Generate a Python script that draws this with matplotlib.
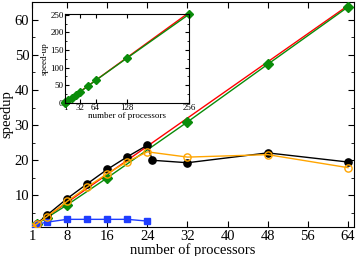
import matplotlib
matplotlib.use("Agg")
import matplotlib.pyplot as plt
from matplotlib.ticker import MultipleLocator, FixedLocator

plt.rcParams["font.family"] = ["Liberation Serif", "DejaVu Serif"]

# ideal speedup line
ideal_x = [1, 64]
ideal_y = [1, 64]

# measured series
black_x = [1, 2, 4, 8, 12, 16, 20, 24, 25, 32, 48, 64]
black_y = [1, 2.0, 4.4, 9.1, 13.3, 17.4, 21.0, 24.3, 20.0, 19.3, 22.1, 19.5]

orange_x = [1, 2, 4, 8, 12, 16, 20, 24, 32, 48, 64]
orange_y = [1, 1.9, 4.0, 8.3, 12.4, 16.2, 19.6, 22.4, 20.9, 21.6, 17.9]

blue_x = [1, 2, 4, 8, 12, 16, 20, 24]
blue_y = [1, 1.8, 2.4, 3.2, 3.2, 3.2, 3.2, 2.7]

green_x = [1, 2, 4, 8, 16, 32, 48, 64]
green_y = [1, 1.9, 3.7, 7.3, 15.0, 30.9, 47.3, 63.6]

# inset (up to 256 processors)
inset_ideal_x = [1, 256]
inset_ideal_y = [1, 256]
inset_green_x = [1, 2, 4, 8, 16, 24, 32, 48, 64, 128, 256]
inset_green_y = [1, 1.9, 3.7, 7.3, 15.0, 22.8, 30.9, 47.3, 63.6, 126.5, 251]

RED = "#ff0000"
GREEN = "#0a8c0a"
BLUE = "#1f3dff"
ORANGE = "#ffa500"

fig = plt.figure(figsize=(3.57, 2.56), dpi=100)
ax = fig.add_axes([0.0896, 0.113, 0.902, 0.879])

ax.plot(ideal_x, ideal_y, color=RED, lw=1.0, zorder=2)
ax.plot(green_x, green_y, color=GREEN, lw=1.0, marker="D", ms=4.6, zorder=3)
ax.plot(black_x, black_y, color="black", lw=1.0, marker="o", ms=5.2, zorder=4)
ax.plot(orange_x, orange_y, color=ORANGE, lw=1.0, marker="o", ms=5.2,
        mfc="none", mew=1.0, zorder=5)
ax.plot(blue_x, blue_y, color=BLUE, lw=1.0, marker="s", ms=4.4, zorder=4)

ax.set_xlim(1, 65.2)
ax.set_ylim(1, 65)
ax.xaxis.set_major_locator(FixedLocator([1, 8, 16, 24, 32, 40, 48, 56, 64]))
ax.yaxis.set_major_locator(FixedLocator([10, 20, 30, 40, 50, 60]))
ax.yaxis.set_minor_locator(MultipleLocator(5))
ax.tick_params(which="both", direction="in", top=True, right=True,
               labelsize=10.5, pad=2)
ax.tick_params(which="major", length=4)
ax.tick_params(which="minor", length=2)
ax.set_xlabel("number of processors", fontsize=10.5, labelpad=0)
ax.set_ylabel("speedup", fontsize=10.5, labelpad=1)

# inset
ins = fig.add_axes([0.182, 0.598, 0.347, 0.347])
ins.plot(inset_ideal_x, inset_ideal_y, color=RED, lw=1.0)
ins.plot(inset_green_x, inset_green_y, color=GREEN, lw=1.0, marker="D",
         ms=4.0, clip_on=False)
ins.set_xlim(1, 256)
ins.set_ylim(0, 252)
ins.xaxis.set_major_locator(FixedLocator([1, 32, 64, 128, 256]))
ins.yaxis.set_major_locator(MultipleLocator(50))
ins.yaxis.set_minor_locator(MultipleLocator(25))
ins.tick_params(which="both", direction="in", top=True, right=True,
                labelsize=6.5, pad=1)
ins.tick_params(which="major", length=3)
ins.tick_params(which="minor", length=1.5)
ins.set_xlabel("number of processors", fontsize=6.5, labelpad=0)
ins.set_ylabel("speed-up", fontsize=6.5, labelpad=1)

fig.savefig("out.png", dpi=100)
